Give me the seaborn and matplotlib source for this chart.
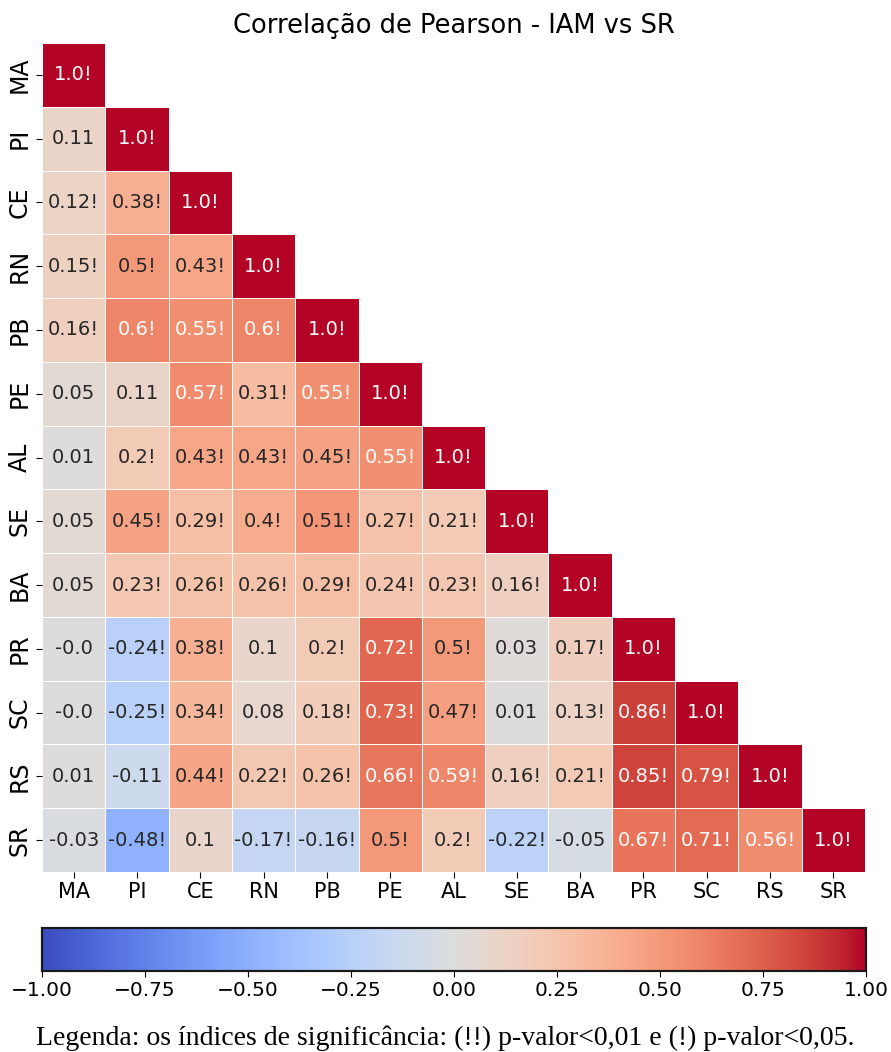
import numpy as np
import pandas as pd
import matplotlib
matplotlib.use("Agg")
import matplotlib.pyplot as plt
import seaborn as sns

states = ["MA", "PI", "CE", "RN", "PB", "PE", "AL", "SE", "BA", "PR", "SC", "RS", "SR"]

# Lower triangle of the Pearson correlation matrix (row by row)
r_MA = [1.0]
r_PI = [0.11, 1.0]
r_CE = [0.12, 0.38, 1.0]
r_RN = [0.15, 0.5, 0.43, 1.0]
r_PB = [0.16, 0.6, 0.55, 0.6, 1.0]
r_PE = [0.05, 0.11, 0.57, 0.31, 0.55, 1.0]
r_AL = [0.01, 0.2, 0.43, 0.43, 0.45, 0.55, 1.0]
r_SE = [0.05, 0.45, 0.29, 0.4, 0.51, 0.27, 0.21, 1.0]
r_BA = [0.05, 0.23, 0.26, 0.26, 0.29, 0.24, 0.23, 0.16, 1.0]
r_PR = [-0.0, -0.24, 0.38, 0.1, 0.2, 0.72, 0.5, 0.03, 0.17, 1.0]
r_SC = [-0.0, -0.25, 0.34, 0.08, 0.18, 0.73, 0.47, 0.01, 0.13, 0.86, 1.0]
r_RS = [0.01, -0.11, 0.44, 0.22, 0.26, 0.66, 0.59, 0.16, 0.21, 0.85, 0.79, 1.0]
r_SR = [-0.03, -0.48, 0.1, -0.17, -0.16, 0.5, 0.2, -0.22, -0.05, 0.67, 0.71, 0.56, 1.0]

# Significance marks ("!" for p < 0.05, "" otherwise)
s_MA = ["!"]
s_PI = ["", "!"]
s_CE = ["!", "!", "!"]
s_RN = ["!", "!", "!", "!"]
s_PB = ["!", "!", "!", "!", "!"]
s_PE = ["", "", "!", "!", "!", "!"]
s_AL = ["", "!", "!", "!", "!", "!", "!"]
s_SE = ["", "!", "!", "!", "!", "!", "!", "!"]
s_BA = ["", "!", "!", "!", "!", "!", "!", "!", "!"]
s_PR = ["", "!", "!", "", "!", "!", "!", "", "!", "!"]
s_SC = ["", "!", "!", "", "!", "!", "!", "", "!", "!", "!"]
s_RS = ["", "", "!", "!", "!", "!", "!", "!", "!", "!", "!", "!"]
s_SR = ["", "!", "", "!", "!", "!", "!", "!", "", "!", "!", "!", "!"]

rows = [r_MA, r_PI, r_CE, r_RN, r_PB, r_PE, r_AL, r_SE, r_BA, r_PR, r_SC, r_RS, r_SR]
marks = [s_MA, s_PI, s_CE, s_RN, s_PB, s_PE, s_AL, s_SE, s_BA, s_PR, s_SC, s_RS, s_SR]

n = len(states)
corr = np.zeros((n, n))
annot = np.full((n, n), "", dtype=object)
for i, (vals, sig) in enumerate(zip(rows, marks)):
    for j, (v, m) in enumerate(zip(vals, sig)):
        corr[i, j] = corr[j, i] = v
        annot[i, j] = f"{v}{m}"
corr_df = pd.DataFrame(corr, index=states, columns=states)
mask = np.triu(np.ones((n, n), dtype=bool), k=1)

plt.rcParams["font.family"] = ["DejaVu Sans"]

fig = plt.figure(figsize=(8.91, 10.52), dpi=100)
W, H = 891, 1052
ax = fig.add_axes([42 / W, 1 - 872 / H, (865 - 42) / W, (872 - 43) / H])
cax = fig.add_axes([42 / W, 1 - 971 / H, (866 - 42) / W, (971 - 928) / H])

sns.heatmap(
    corr_df, mask=mask, annot=annot, fmt="", cmap="coolwarm", vmin=-1, vmax=1,
    linewidths=0.6, linecolor="white", ax=ax, cbar_ax=cax,
    cbar_kws={"orientation": "horizontal"},
    annot_kws={"fontsize": 14},
)
ax.set_title("Correlação de Pearson - IAM vs SR", fontsize=18.5, pad=7)
ax.tick_params(axis="x", labelsize=15, length=4)
ax.tick_params(axis="y", labelsize=17, length=4)
ax.set_yticklabels(states, rotation=90, va="center")
ax.set_xticklabels(states, rotation=0)
cax.tick_params(labelsize=14.5, length=4)
cax.set_xticks([-1, -0.75, -0.5, -0.25, 0, 0.25, 0.5, 0.75, 1])
cax.set_xticklabels(["−1.00", "−0.75", "−0.50", "−0.25", "0.00", "0.25", "0.50", "0.75", "1.00"])
for sp in cax.spines.values():
    sp.set_visible(True)
    sp.set_linewidth(1.5)
    sp.set_color("#1a1a1a")

fig.text(0.5, 1 - 1038 / H,
         "Legenda: os índices de significância: (!!) p-valor<0,01 e (!) p-valor<0,05.",
         ha="center", va="center", fontsize=20, family="Liberation Serif")

fig.savefig("out.png", dpi=100)
